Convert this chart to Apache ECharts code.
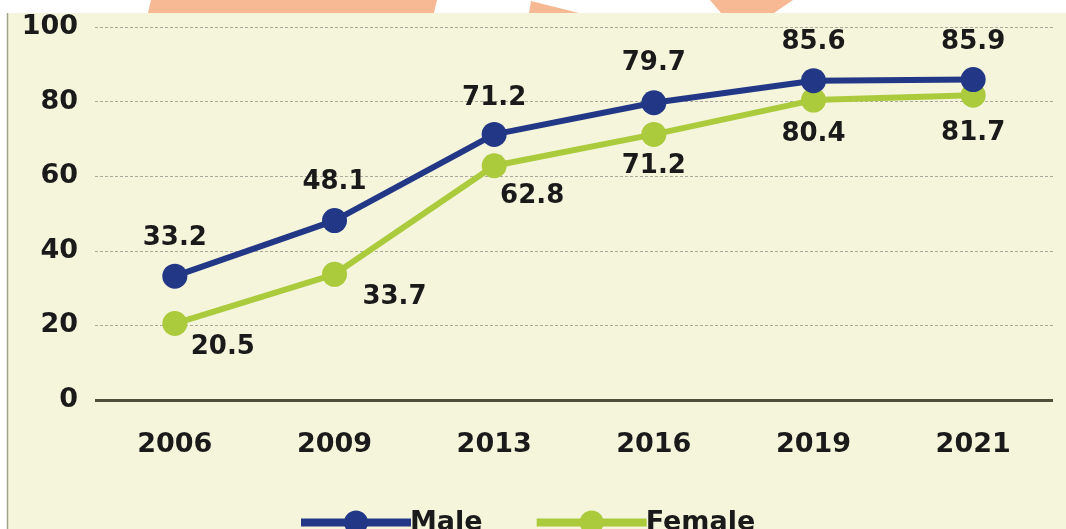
<!DOCTYPE html>
<html>
<head>
<meta charset="utf-8">
<script src="https://cdn.jsdelivr.net/npm/echarts@6/dist/echarts.min.js"></script>
<style>
html,body{margin:0;padding:0;background:#ffffff;}
#chart{width:1066px;height:529px;}
</style>
</head>
<body>
<div id="chart"></div>
<script>
var years = ['2006', '2009', '2013', '2016', '2019', '2021'];
var maleValues = [33.2, 48.1, 71.2, 79.7, 85.6, 85.9];
var femaleValues = [20.5, 33.7, 62.8, 71.2, 80.4, 81.7];
var seriesNames = ['Male', 'Female'];

var maleColor = '#223886';
var femaleColor = '#abca3c';
var textColor = '#1a1a1a';
var fontFamily = '"DejaVu Sans", Verdana, sans-serif';

var maleOffsets = [[0, -38], [0, -38], [0, -36], [0, -39], [0, -38], [0, -37]];
var femaleOffsets = [[48, 24], [60, 23], [38, 30], [0, 32], [0, 34], [0, 38]];

function buildData(values, offsets) {
  return values.map(function (v, i) {
    return {
      value: v,
      label: { offset: offsets[i] }
    };
  });
}

var labelStyle = {
  show: true,
  position: 'inside',
  color: textColor,
  fontSize: 26,
  fontWeight: 'bold',
  fontFamily: fontFamily,
  formatter: function (p) { return p.value.toFixed(1); }
};

var chart = echarts.init(document.getElementById('chart'), null, { renderer: 'canvas' });

chart.setOption({
  backgroundColor: '#ffffff',
  animation: false,
  graphic: [
    { type: 'rect', z: -100, shape: { x: 7, y: 13, width: 1059, height: 516 },
      style: { fill: '#f5f5dc' } },
    { type: 'line', z: -99, shape: { x1: 7.5, y1: 13, x2: 7.5, y2: 529 },
      style: { stroke: '#a3a38c', lineWidth: 1.5 } },
    { type: 'polygon', z: -100, shape: { points: [[151, 0], [437, 0], [434, 13], [148, 13]] },
      style: { fill: '#f7b993' } },
    { type: 'polygon', z: -100, shape: { points: [[531, 1], [579, 13], [529, 13]] },
      style: { fill: '#f7b993' } },
    { type: 'polygon', z: -100, shape: { points: [[710, 0], [793, 0], [774, 13], [721, 13]] },
      style: { fill: '#f7b993' } }
  ],
  grid: { left: 95, right: 13, top: 27, bottom: 129, containLabel: false },
  legend: {
    data: [
      { name: seriesNames[0], lineStyle: { width: 8 } },
      { name: seriesNames[1], lineStyle: { width: 8 } }
    ],
    top: 504,
    left: 292,
    itemWidth: 110,
    itemHeight: 30,
    itemGap: 50,
    textStyle: { color: textColor, fontSize: 27, fontWeight: 'bold', fontFamily: fontFamily, padding: [0, 0, 0, -6] }
  },
  xAxis: {
    type: 'category',
    data: years,
    boundaryGap: true,
    axisLine: { show: false },
    axisTick: { show: false },
    axisLabel: { color: textColor, fontSize: 27, fontWeight: 'bold', fontFamily: fontFamily, margin: 31 }
  },
  yAxis: {
    type: 'value',
    min: 0,
    max: 100,
    interval: 20,
    axisLine: { show: false },
    axisTick: { show: false },
    axisLabel: { color: textColor, fontSize: 27, fontWeight: 'bold', fontFamily: fontFamily, margin: 17 },
    splitLine: { lineStyle: { color: '#aaa99a', type: [3, 2], width: 1 } }
  },
  series: [
    {
      name: seriesNames[0],
      type: 'line',
      data: buildData(maleValues, maleOffsets),
      symbol: 'circle',
      symbolSize: 25,
      color: maleColor,
      lineStyle: { color: maleColor, width: 6 },
      itemStyle: { color: maleColor },
      label: labelStyle,
      z: 4
    },
    {
      name: seriesNames[1],
      type: 'line',
      data: buildData(femaleValues, femaleOffsets),
      symbol: 'circle',
      symbolSize: 25,
      color: femaleColor,
      lineStyle: { color: femaleColor, width: 6 },
      itemStyle: { color: femaleColor },
      label: labelStyle,
      z: 3,
      markLine: {
        silent: true,
        symbol: 'none',
        label: { show: false },
        lineStyle: { color: '#4f4f3c', width: 3, type: 'solid' },
        data: [{ yAxis: 0 }]
      }
    }
  ]
});
</script>
</body>
</html>
